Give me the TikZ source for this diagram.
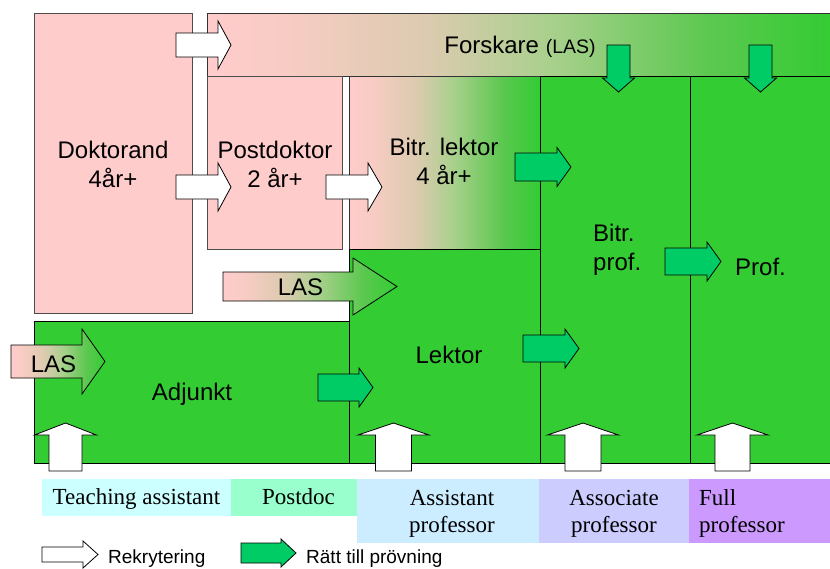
\documentclass[tikz,border=0pt]{standalone}
\usepackage{fontspec}
\setmainfont{Liberation Sans}
\newfontfamily\engserif{Liberation Serif}
\definecolor{pk}{HTML}{FFCCCC}
\definecolor{pk2}{HTML}{F8CCC4}
\definecolor{tan1}{HTML}{DCCBB0}
\definecolor{lg1}{HTML}{A8D08C}
\definecolor{lg2}{HTML}{5CC850}
\definecolor{gr}{HTML}{33CC33}
\definecolor{ag}{HTML}{00CC66}
\definecolor{ta}{HTML}{CCFFFF}
\definecolor{pd}{HTML}{99FFCC}
\definecolor{asp}{HTML}{CCECFF}
\definecolor{aso}{HTML}{CCCCFF}
\definecolor{fup}{HTML}{CC99FF}
\pgfdeclarehorizontalshading{pkgr}{100bp}{color(0bp)=(pk); color(25bp)=(pk); color(31bp)=(pk2); color(42.5bp)=(tan1); color(52.5bp)=(lg1); color(65bp)=(lg2); color(75bp)=(gr); color(100bp)=(gr)}
\newcommand\harrow[7]{\path[#1] (#2,{#5-#6}) -- (#3,{#5-#6}) -- (#3,{#5-#7}) -- (#4,#5) -- (#3,{#5+#7}) -- (#3,{#5+#6}) -- (#2,{#5+#6}) -- cycle;}
\newcommand\varrow[7]{\path[#1] ({#2-#6},#3) -- ({#2-#6},#4) -- ({#2-#7},#4) -- (#2,#5) -- ({#2+#7},#4) -- ({#2+#6},#4) -- ({#2+#6},#3) -- cycle;}
\tikzset{
  pinkbox/.style={fill=pk, draw=black!70, line width=0.8pt},
  gradbox/.style={shade, shading=pkgr, draw=black!80, line width=0.8pt},
  greenbox/.style={fill=gr, draw=black, line width=0.8pt},
  recr/.style={fill=white, draw=black, line width=0.8pt},
  ratt/.style={fill=ag, draw=black, line width=0.8pt},
  lasarrow/.style={shade, shading=pkgr, draw=black, line width=0.8pt},
  lbl/.style={inner sep=0pt, align=center, font=\fontsize{24}{29}\selectfont},
  eng/.style={inner sep=0pt, align=center, font=\engserif\fontsize{23}{27}\selectfont},
  leg/.style={inner sep=0pt, anchor=base west, font=\fontsize{19}{23}\selectfont}
}
\begin{document}
\begin{tikzpicture}[x=1pt, y=-1pt]
\useasboundingbox (0,0) rectangle (830,568);
\clip (0,0) rectangle (830,568);
% boxes
\path[pinkbox] (34,13) rectangle (192,313);
\path[gradbox] (207,13) rectangle (834,76);
\path[pinkbox] (207,76) rectangle (342,249);
\path[gradbox] (349,76) rectangle (540,249);
\path[greenbox] (34,321) rectangle (349,463);
\path[greenbox] (349,249) rectangle (540,463);
\path[greenbox] (540,76) rectangle (690,463);
\path[greenbox] (690,76) rectangle (834,463);
% category bands
\fill[ta] (42,479) rectangle (231,516);
\fill[pd] (231,479) rectangle (357,516);
\fill[asp] (357,479) rectangle (539,543);
\fill[aso] (539,479) rectangle (689,543);
\fill[fup] (689,479) rectangle (830,543);
% recruitment arrows
\harrow{recr}{176}{218}{231}{45}{12}{24}
\harrow{recr}{176}{218}{231}{187}{12}{24}
\harrow{recr}{326}{368}{382}{187}{12}{24}
\varrow{recr}{65.5}{471}{435}{423}{16.5}{31}
\varrow{recr}{393.5}{471}{435}{423}{18}{35.5}
\varrow{recr}{583}{471}{435}{423}{18}{35.5}
\varrow{recr}{732.5}{471}{435}{423}{17.5}{35.5}
% right to promotion arrows
\harrow{ratt}{515}{557}{571}{167}{14}{19.5}
\harrow{ratt}{665}{707}{721}{261.5}{13.5}{19.5}
\harrow{ratt}{523}{565}{579}{348.5}{13.5}{19.5}
\harrow{ratt}{318}{359}{373}{387.5}{13.5}{19.5}
\varrow{ratt}{618.5}{45}{78}{92}{11.5}{16}
\varrow{ratt}{760.5}{45}{78}{92}{11.5}{16}
% LAS arrows
\harrow{lasarrow}{223}{353}{397}{286.5}{14.5}{28.5}
\harrow{lasarrow}{11}{82}{105}{361.5}{16.5}{32.5}
% labels
\node[lbl] (dok) at (113,164) {Doktorand\\4år+};
\node[lbl] (pdok) at (275,164) {Postdoktor\\2 år+};
\node[lbl] (blek) at (444,161) {Bitr. lektor\\4 år+};
\node[lbl, anchor=base] (fors) at (520,53) {Forskare {\fontsize{19.5}{21}\selectfont (LAS)}};
\node[lbl, align=left, anchor=west] (bprof) at (593,250) {Bitr.\\prof.};
\node[lbl, anchor=base west] (prof) at (735,275) {Prof.};
\node[lbl, anchor=base] (lek) at (449,363) {Lektor};
\node[lbl, anchor=base] (adj) at (192,400) {Adjunkt};
\node[lbl, anchor=base] (las1) at (300.5,295) {LAS};
\node[lbl, anchor=base] (las2) at (53.5,372) {LAS};
% english labels
\node[eng, anchor=base] (ta) at (136.5,504) {Teaching assistant};
\node[eng, anchor=base] (pdc) at (298.5,504) {Postdoc};
\node[eng] (asst) at (452,513.5) {Assistant\\professor};
\node[eng] (asso) at (614,513.5) {Associate\\professor};
\node[eng, align=left, anchor=west] (full) at (699,513.5) {Full\\professor};
% legend
\harrow{recr}{42}{83}{98}{554.5}{7.5}{13.5}
\harrow{ratt}{241}{281}{296}{553}{10}{14}
\node[leg] (lrec) at (108,563) {Rekrytering};
\node[leg] (lratt) at (306,563) {Rätt till prövning};
\end{tikzpicture}
\end{document}
